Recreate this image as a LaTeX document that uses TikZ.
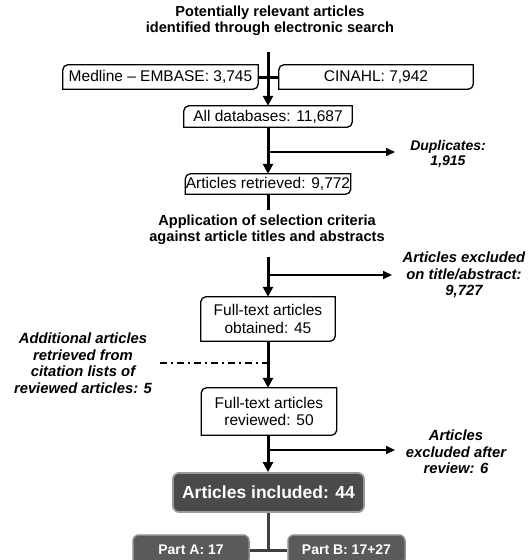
\documentclass[tikz,border=0pt]{standalone}
\usepackage{fontspec}
\setmainfont{Liberation Sans}
\usetikzlibrary{arrows.meta}

\definecolor{incfill}{HTML}{4A4A4A}
\definecolor{incedge}{HTML}{9A9A9A}
\definecolor{partfill}{HTML}{5A5A5A}
\definecolor{partedge}{HTML}{8C8C8C}
\definecolor{stemgray}{HTML}{404040}

% outline with rounded top-left and bottom-right corners
\newcommand\diagframe[1]{%
  \draw[framepen] ([xshift=5pt]#1.north west) -- (#1.north east)
    -- ([yshift=5pt]#1.south east) arc[start angle=0,end angle=-90,radius=5pt]
    -- (#1.south west) -- ([yshift=-5pt]#1.north west)
    arc[start angle=180,end angle=90,radius=5pt] -- cycle;}

\begin{document}
\begin{tikzpicture}[x=1pt,y=-1pt,
  framepen/.style={draw=black,line width=1.3pt},
  wbox/.style={inner sep=0pt,align=center,font=\fontsize{15.5}{17.5}\selectfont},
  headlab/.style={align=center,inner sep=0pt,font=\bfseries\fontsize{14.6}{16}\selectfont},
  sidelab/.style={align=center,inner sep=0pt,font=\bfseries\itshape\fontsize{14.8}{16.5}\selectfont},
  mainline/.style={line width=3pt,draw=black},
  branch/.style={line width=2pt,draw=black},
  tip/.style={-{Triangle[length=10pt,width=10pt]}},
  sidetip/.style={-{Triangle[length=9pt,width=8pt]}},
  incbox/.style={fill=incfill,draw=incedge,line width=1.8pt,rounded corners=6pt,
    text=white,font=\bfseries\fontsize{17.5}{20}\selectfont,inner sep=0pt},
  partbox/.style={fill=partfill,draw=partedge,line width=1.5pt,rounded corners=6pt,
    text=white,font=\bfseries\fontsize{14}{16}\selectfont,inner sep=0pt},
  stem/.style={line width=3pt,draw=stemgray}
]
\clip (0,0) rectangle (528,560);

% headings
\node[headlab] (title) at (270,21) {Potentially relevant articles\\identified through electronic search};
\node[headlab] (criteria) at (267,230) {Application of selection criteria\\against article titles and abstracts};

% white boxes
\node[wbox,minimum width=195pt,minimum height=24pt] (medline) at (160.5,77) {Medline – EMBASE: 3,745};
\node[wbox,minimum width=194pt,minimum height=24pt] (cinahl) at (376,77) {CINAHL: 7,942};
\node[wbox,minimum width=168pt,minimum height=21pt] (alldb) at (268,116.5) {All databases: 11,687};
\node[wbox,minimum width=165pt,minimum height=20pt] (retrieved) at (268,184) {Articles retrieved: 9,772};
\node[wbox,minimum width=134pt,minimum height=44pt] (obtained) at (268,319) {Full-text articles\\obtained: 45};
\node[wbox,minimum width=135pt,minimum height=47pt] (reviewed) at (269,411.5) {Full-text articles\\reviewed: 50};
\foreach \n in {medline,cinahl,alldb,retrieved,obtained,reviewed} {\diagframe{\n}}

% dark boxes
\node[incbox,minimum width=191pt,minimum height=39pt] (included) at (268.5,492.5) {Articles included: 44};
\node[partbox,minimum width=116pt,minimum height=30pt] (partA) at (191,550) {Part A: 17};
\node[partbox,minimum width=117pt,minimum height=30pt] (partB) at (346.5,550) {Part B: 17+27};

% side labels
\node[sidelab,font=\bfseries\itshape\fontsize{14}{15.5}\selectfont] (dup) at (448,154) {Duplicates:\\1,915};
\node[sidelab] (exclta) at (464,275) {Articles excluded\\on title/abstract:\\9,727};
\node[sidelab] (addl) at (83,363) {Additional articles\\retrieved from\\citation lists of\\reviewed articles: 5};
\node[sidelab] (exclrev) at (456,452) {Articles\\excluded after\\review: 6};

% connector points
\coordinate (top) at (268,52);
\coordinate (dupfork) at (268,152);
\coordinate (dupend) at (395,152);
\coordinate (critin) at (268,210);
\coordinate (critout) at (268,257);
\coordinate (tafork) at (268,275);
\coordinate (taend) at (392,275);
\coordinate (addstart) at (160,363);
\coordinate (addjoin) at (268,363);
\coordinate (revfork) at (268,450);
\coordinate (revend) at (395,450);
\coordinate (split) at (268,549);

% main flow
\draw[mainline] (medline.east) -- (cinahl.west);
\draw[mainline,tip] (top) -- (alldb.north);
\draw[mainline,tip] (alldb.south) -- (retrieved.north);
\draw[branch,sidetip] (dupfork) -- (dupend);
\draw[mainline] (retrieved.south) -- (critin);
\draw[mainline,tip] (critout) -- (obtained.north);
\draw[branch,sidetip] (tafork) -- (taend);
\draw[mainline,tip] (obtained.south) -- (reviewed.north -| obtained.south);
\draw[branch,dash pattern=on 7pt off 4pt on 2pt off 4pt] (addstart) -- (addjoin);
\draw[mainline,tip] (reviewed.south -| obtained.south) -- (included.north -| obtained.south);
\draw[branch,sidetip] (revfork) -- (revend);

% split into the two parts
\draw[stem] (included.south -| split) -- (split);
\draw[stem] (partA.east) -- (partB.west);
\end{tikzpicture}
\end{document}
